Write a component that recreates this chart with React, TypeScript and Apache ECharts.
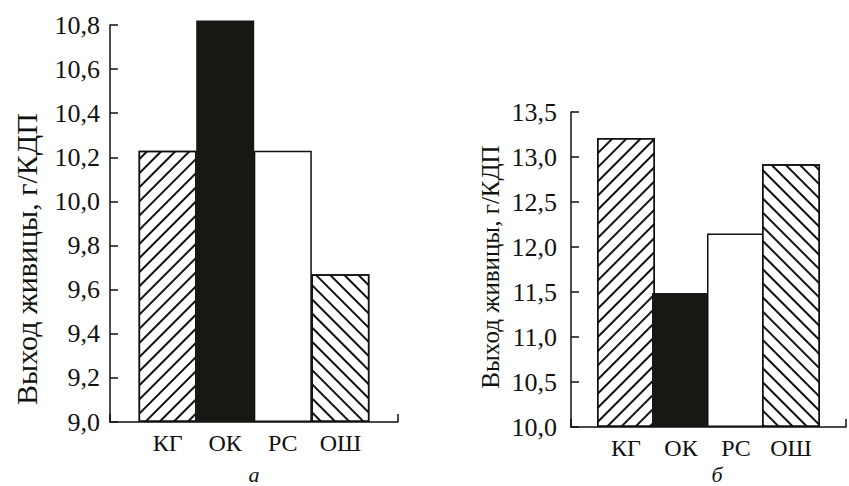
import React, { useEffect, useRef } from 'react';
import * as echarts from 'echarts';

// ---- data ----
const categories = ['КГ', 'ОК', 'РС', 'ОШ'];
const positions = [1, 2, 3, 4];
const valuesA = [10.23, 10.82, 10.23, 9.67];
const valuesB = [13.21, 11.49, 12.15, 12.92];
const yTicksA = [9.0, 10.8, 0.2]; // min, max, interval
const yTicksB = [10.0, 13.5, 0.5];
const panelLabels = ['а', 'б'];
const yTitle = 'Выход живицы, г/КДП';

const FONT = '"Liberation Serif", "Times New Roman", serif';
const INK = '#111';

const hatch = (rot: number) => ({
  symbol: 'rect',
  symbolSize: 1,
  color: INK,
  backgroundColor: '#fff',
  dashArrayX: [1, 0],
  dashArrayY: [1.6, 7.8],
  rotation: rot,
});

const barStyles = [
  { color: '#fff', borderColor: INK, borderWidth: 1.5, decal: hatch(-Math.PI / 4) },
  { color: '#161813', borderColor: '#161813', borderWidth: 0 },
  { color: '#fff', borderColor: INK, borderWidth: 1.5 },
  { color: '#fff', borderColor: INK, borderWidth: 1.5, decal: hatch(Math.PI / 4) },
];

const fmtComma = (v: number) => v.toFixed(1).replace('.', ',');

function xAxisOf(gridIndex: number) {
  return {
    type: 'value',
    gridIndex,
    min: 0,
    max: 5,
    interval: 1,
    axisLine: { show: true, onZero: false, lineStyle: { color: INK, width: 1.5 } },
    axisTick: { show: true, inside: true, length: 8, lineStyle: { color: INK, width: 1.5 } },
    splitLine: { show: false },
    axisLabel: {
      margin: 9,
      fontFamily: FONT,
      fontSize: 24,
      color: INK,
      formatter: (v: number) => categories[Math.round(v) - 1] ?? '',
    },
  };
}

function yAxisOf(gridIndex: number, t: number[], margin: number) {
  return {
    type: 'value',
    gridIndex,
    min: t[0],
    max: t[1],
    interval: t[2],
    startValue: t[0],
    axisLine: { show: true, onZero: false, lineStyle: { color: INK, width: 1.5 } },
    axisTick: { show: true, inside: true, length: 8, lineStyle: { color: INK, width: 1.5 } },
    splitLine: { show: false },
    axisLabel: {
      margin,
      fontFamily: FONT,
      fontSize: 26,
      color: INK,
      formatter: fmtComma,
    },
  };
}

function barSeries(idx: number, values: number[]) {
  return {
    type: 'bar',
    xAxisIndex: idx,
    yAxisIndex: idx,
    barWidth: 58,
    clip: false,
    silent: true,
    data: positions.map((p, i) => ({ value: [p, values[i]], itemStyle: barStyles[i] })),
  };
}

export default function App() {
  const ref = useRef<HTMLDivElement>(null);
  useEffect(() => {
    if (!ref.current) return;
    const chart = echarts.init(ref.current, null, { renderer: 'svg' });
    chart.setOption({
      animation: false,
      backgroundColor: '#fff',
      grid: [
        { left: 110, top: 25, width: 288, height: 397 },
        { left: 571, top: 112, width: 290, height: 315 },
      ],
      xAxis: [xAxisOf(0), xAxisOf(1)],
      yAxis: [yAxisOf(0, yTicksA, 10), yAxisOf(1, yTicksB, 14)],
      series: [barSeries(0, valuesA), barSeries(1, valuesB)],
      graphic: [
        {
          type: 'text', x: 26, y: 259, rotation: Math.PI / 2,
          style: { text: yTitle, fontFamily: FONT, fontSize: 30, fill: INK, align: 'center', verticalAlign: 'middle' },
        },
        {
          type: 'text', x: 490, y: 267, rotation: Math.PI / 2,
          style: { text: yTitle, fontFamily: FONT, fontSize: 25, fill: INK, align: 'center', verticalAlign: 'middle' },
        },
        {
          type: 'text', x: 254, y: 474,
          style: { text: panelLabels[0], fontFamily: FONT, fontStyle: 'italic', fontSize: 22, fill: INK, align: 'center', verticalAlign: 'middle' },
        },
        {
          type: 'text', x: 717, y: 474,
          style: { text: panelLabels[1], fontFamily: FONT, fontStyle: 'italic', fontSize: 22, fill: INK, align: 'center', verticalAlign: 'middle' },
        },
      ],
    });
    return () => chart.dispose();
  }, []);
  return (
    <div
      ref={ref}
      style={{ position: 'fixed', left: 0, top: 0, width: 849, height: 486, background: '#fff' }}
    />
  );
}
